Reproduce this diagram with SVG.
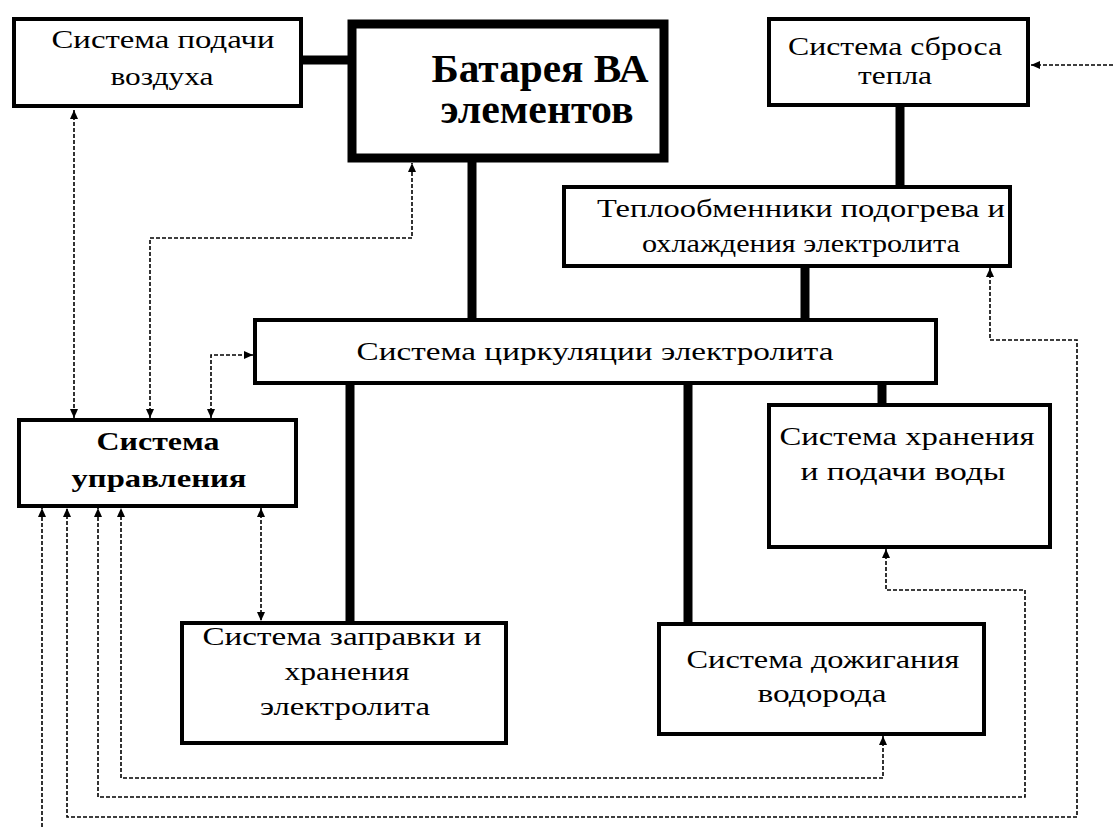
<svg xmlns="http://www.w3.org/2000/svg" width="1113" height="827" viewBox="0 0 1113 827">
  <style>
    .box { fill: #fff; stroke: #000; stroke-width: 4; }
    .main { fill: #fff; stroke: #000; stroke-width: 9; }
    .bus { stroke: #000; stroke-width: 9; fill: none; }
    .sig { stroke: #000; stroke-width: 1.6; fill: none; stroke-dasharray: 4 2; }
    .arr { marker-end: url(#ah); }
    .both { marker-start: url(#ah); marker-end: url(#ah); }
    text { font-family: "Liberation Serif", "Times New Roman", serif; font-size: 26px; fill: #000; text-anchor: middle; }
    .b { font-weight: bold; }
    .big { font-size: 40px; font-weight: bold; }
  </style>
  <defs>
    <marker id="ah" viewBox="0 0 9 8" refX="9" refY="4" markerWidth="9" markerHeight="8" markerUnits="userSpaceOnUse" orient="auto-start-reverse">
      <path d="M0,0 L9,4 L0,8 z" fill="#000"/>
    </marker>
  </defs>
  <rect width="1113" height="827" fill="#fff"/>

  <!-- power and fluid links -->
  <g id="connectors">
    <line class="bus" x1="303" y1="60" x2="350" y2="60"/>
    <line class="bus" x1="472" y1="160" x2="472" y2="320"/>
    <line class="bus" x1="900" y1="106" x2="900" y2="186"/>
    <line class="bus" x1="805" y1="267" x2="805" y2="320"/>
    <line class="bus" x1="882" y1="384" x2="882" y2="405"/>
    <line class="bus" x1="350" y1="384" x2="350" y2="623"/>
    <line class="bus" x1="688" y1="384" x2="688" y2="624"/>

    <!-- control signal lines -->
    <path class="sig both" d="M74,110 V418"/>
    <path class="sig both" d="M150,418 V238 H412 V163"/>
    <path class="sig both" d="M211,418 V355 H253"/>
    <path class="sig both" d="M261,508 V621"/>
    <path class="sig both" d="M883,736 V778 H121 V508"/>
    <path class="sig both" d="M886,549 V590 H1025 V797 H98 V508"/>
    <path class="sig both" d="M990,268 V340 H1077 V817 H67 V508"/>
    <path class="sig arr" d="M42,827 V508"/>
    <path class="sig arr" d="M1113,65 H1031"/>
  </g>

  <g id="air-supply">
    <rect class="box" x="14" y="19" width="287" height="87"/>
    <text x="163" y="48" textLength="223" lengthAdjust="spacingAndGlyphs">Система подачи</text>
    <text x="162" y="85" textLength="103" lengthAdjust="spacingAndGlyphs">воздуха</text>
  </g>

  <g id="battery">
    <rect class="main" x="352" y="24" width="312" height="134"/>
    <text class="big" x="540" y="82" textLength="217" lengthAdjust="spacingAndGlyphs">Батарея ВА</text>
    <text class="big" x="537" y="123" textLength="193" lengthAdjust="spacingAndGlyphs">элементов</text>
  </g>

  <g id="heat-rejection">
    <rect class="box" x="769" y="19" width="259" height="86"/>
    <text x="895" y="55" textLength="214" lengthAdjust="spacingAndGlyphs">Система сброса</text>
    <text x="895" y="84" textLength="74" lengthAdjust="spacingAndGlyphs">тепла</text>
  </g>

  <g id="heat-exchangers">
    <rect class="box" x="564" y="187" width="446" height="79"/>
    <text x="801" y="217" textLength="408" lengthAdjust="spacingAndGlyphs">Теплообменники подогрева и</text>
    <text x="801" y="252" textLength="318" lengthAdjust="spacingAndGlyphs">охлаждения электролита</text>
  </g>

  <g id="circulation">
    <rect class="box" x="255" y="320" width="681" height="63"/>
    <text x="595" y="360" textLength="477" lengthAdjust="spacingAndGlyphs">Система циркуляции электролита</text>
  </g>

  <g id="control">
    <rect class="box" x="19" y="420" width="277" height="86"/>
    <text class="b" x="158" y="450" textLength="123" lengthAdjust="spacingAndGlyphs">Система</text>
    <text class="b" x="159" y="487" textLength="175" lengthAdjust="spacingAndGlyphs">управления</text>
  </g>

  <g id="water">
    <rect class="box" x="769" y="405" width="281" height="142"/>
    <text x="907" y="445" textLength="255" lengthAdjust="spacingAndGlyphs">Система хранения</text>
    <text x="903" y="480" textLength="205" lengthAdjust="spacingAndGlyphs">и подачи воды</text>
  </g>

  <g id="electrolyte-storage">
    <rect class="box" x="182" y="623" width="324" height="120"/>
    <text x="342" y="645" textLength="279" lengthAdjust="spacingAndGlyphs">Система заправки и</text>
    <text x="347" y="680" textLength="125" lengthAdjust="spacingAndGlyphs">хранения</text>
    <text x="345" y="715" textLength="170" lengthAdjust="spacingAndGlyphs">электролита</text>
  </g>

  <g id="hydrogen-burner">
    <rect class="box" x="659" y="624" width="325" height="110"/>
    <text x="823" y="668" textLength="273" lengthAdjust="spacingAndGlyphs">Система дожигания</text>
    <text x="822" y="702" textLength="129" lengthAdjust="spacingAndGlyphs">водорода</text>
  </g>
</svg>
